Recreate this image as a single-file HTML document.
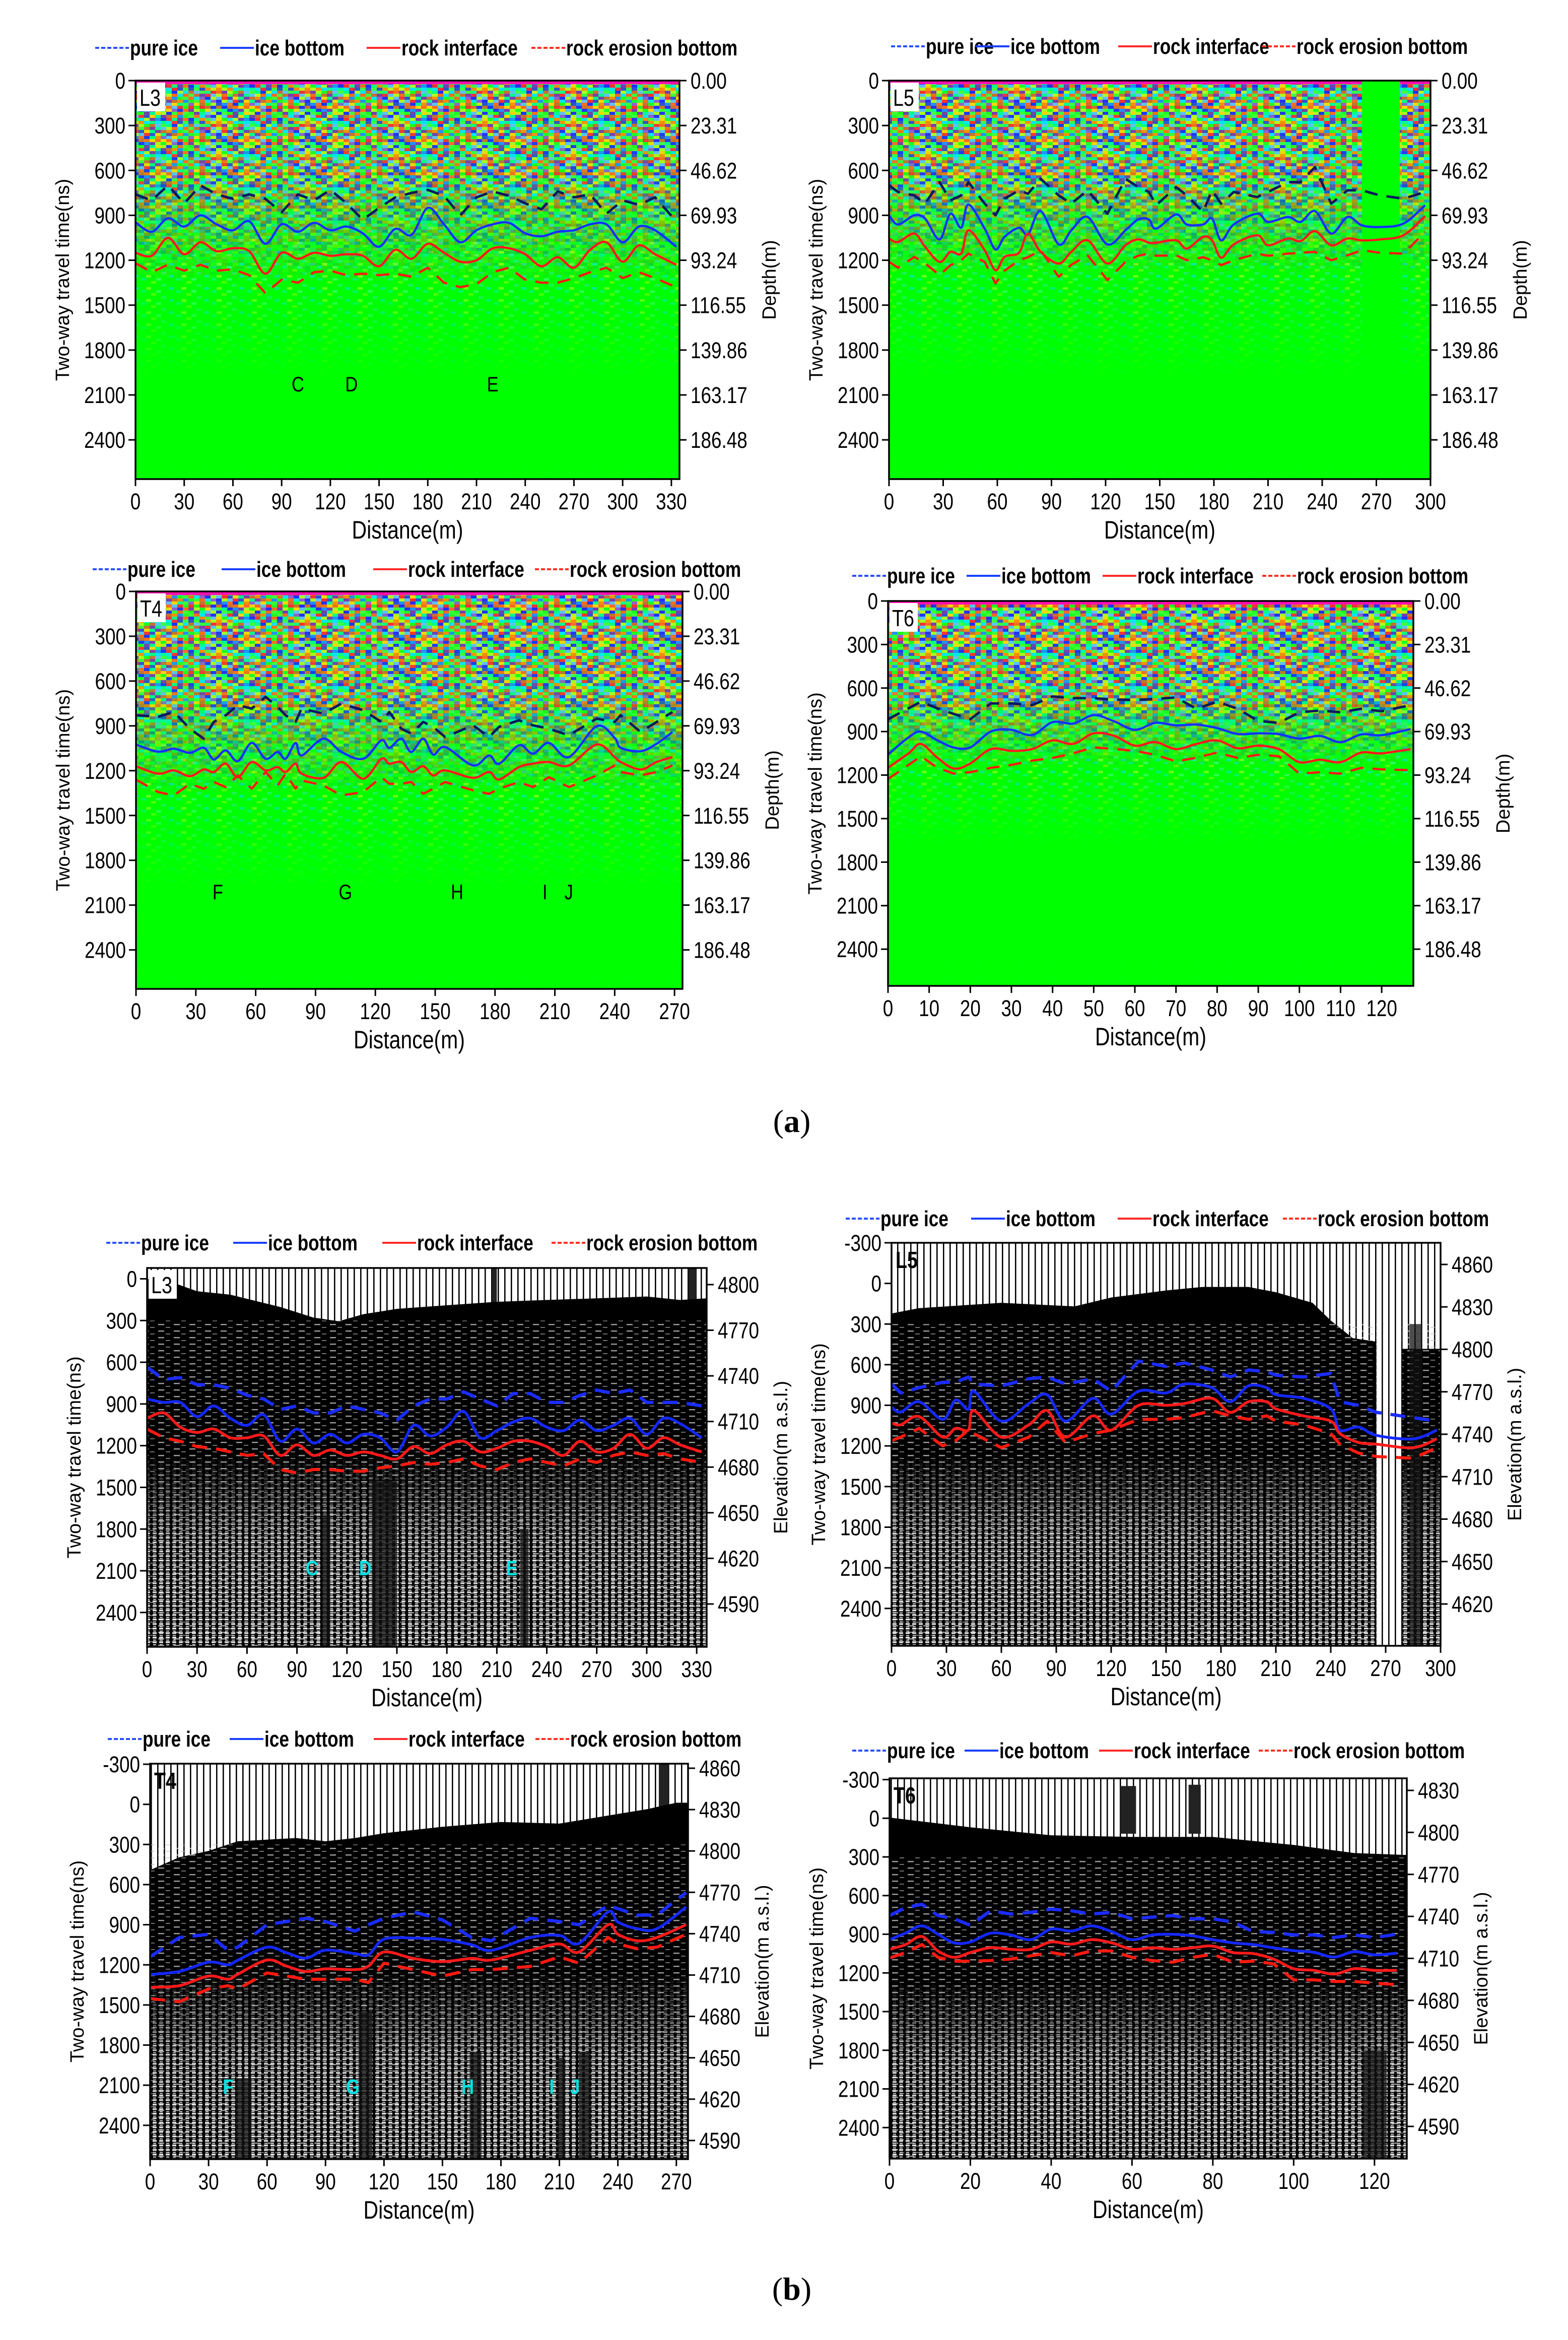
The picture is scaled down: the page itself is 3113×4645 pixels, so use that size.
<!DOCTYPE html>
<html><head><meta charset="utf-8">
<style>
html,body{margin:0;padding:0;background:#fff;}
svg{display:block;}
</style></head>
<body>
<svg id="root" xmlns="http://www.w3.org/2000/svg" width="3113" height="4645" viewBox="0 0 3113 4645">
<rect x="0" y="0" width="3113" height="4645" fill="#ffffff"/>
<defs id="defs">
  <pattern id="traces" patternUnits="userSpaceOnUse" width="13" height="20">
    <rect x="0" y="0" width="13" height="20" fill="#ffffff"/>
    <rect x="0" y="0" width="2.6" height="20" fill="#000"/>
  </pattern>
  <pattern id="wspk" patternUnits="userSpaceOnUse" width="13" height="9">
    <rect x="4" y="0" width="8" height="3.5" fill="#fff"/>
    <rect x="5" y="5.5" width="6" height="2.5" fill="#ccc"/>
  </pattern>
  <pattern id="wspk2" patternUnits="userSpaceOnUse" width="31" height="13">
    <rect x="4" y="2" width="12" height="2.5" fill="#fff"/>
    <rect x="19" y="8" width="9" height="2" fill="#bbb"/>
  </pattern>
</defs>
</svg>
<script>
// ---------------- data ----------------
const nsTicksA=[0,300,600,900,1200,1500,1800,2100,2400];
const depthLabels=['0.00','23.31','46.62','69.93','93.24','116.55','139.86','163.17','186.48'];
const nsTicksB0=[0,300,600,900,1200,1500,1800,2100,2400];
const nsTicksB=[-300,0,300,600,900,1200,1500,1800,2100,2400];
const elevL3=[4800,4770,4740,4710,4680,4650,4620,4590];
const elevL5=[4860,4830,4800,4770,4740,4710,4680,4650,4620];
const elevT4=[4860,4830,4800,4770,4740,4710,4680,4650,4620,4590];
const elevT6=[4830,4800,4770,4740,4710,4680,4650,4620,4590];
const xtL3=[0,30,60,90,120,150,180,210,240,270,300,330];
const xtL5=[0,30,60,90,120,150,180,210,240,270,300];
const xtT4=[0,30,60,90,120,150,180,210,240,270];
const xtT6a=[0,10,20,30,40,50,60,70,80,90,100,110,120];
const xtT6b=[0,20,40,60,80,100,120];

const L3_X=[0,10,20,30,40,50,60,70,80,90,100,110,120,130,140,150,160,170,180,190,200,210,220,230,240,250,260,270,280,290,300,310,320,333];
const L3A_PURE=[760,800,700,820,700,760,790,760,790,880,760,800,730,820,930,850,780,750,730,770,900,780,740,770,820,860,740,780,760,890,800,830,780,940];
const L3A_ICE=[946,1010,920,975,900,960,1000,940,1090,960,1010,950,1000,975,1020,1110,990,1030,850,960,1080,1000,960,950,1020,1040,1010,1000,960,960,1080,975,1000,1110];
const L3A_ROCK=[1150,1170,1050,1160,1080,1140,1120,1140,1290,1150,1190,1150,1170,1160,1170,1240,1130,1190,1090,1150,1210,1200,1120,1120,1160,1240,1180,1250,1130,1080,1210,1100,1160,1230];
const L3A_EROS=[1220,1280,1230,1270,1230,1270,1260,1300,1420,1330,1350,1280,1270,1300,1290,1300,1290,1310,1250,1350,1380,1360,1280,1250,1330,1350,1350,1320,1280,1250,1320,1280,1320,1380];

const L3B_PURE=[635,724,711,762,762,787,838,864,940,914,965,965,914,940,965,1016,914,864,864,813,864,914,825,825,889,889,838,800,825,800,889,889,889,914];
const L3B_ICE=[864,889,889,991,914,1003,1054,978,1168,1080,1181,1118,1181,1118,1143,1245,1054,1130,1067,953,1143,1092,1029,1003,1067,1092,1016,1092,1054,1003,1118,1003,1041,1143];
const L3B_ROCK=[1003,965,1067,1105,1080,1143,1143,1130,1270,1194,1270,1232,1270,1245,1270,1295,1207,1257,1194,1168,1245,1219,1168,1168,1207,1270,1168,1245,1219,1118,1219,1143,1194,1245];
const L3B_EROS=[1080,1143,1168,1207,1219,1245,1270,1257,1372,1397,1372,1372,1384,1384,1359,1346,1321,1334,1321,1295,1346,1372,1321,1295,1321,1346,1295,1321,1270,1245,1270,1257,1295,1321];
const L3B_SURF_X=[0,15,30,50,80,100,115,130,150,180,210,240,270,300,320,336];
const L3B_SURF=[0,25,89,114,203,279,305,254,216,190,165,152,140,127,152,140];

const L5A_X=[0,5,14,20,28,34,40,44,53,59,64,72,77,84,94,101,110,121,131,138,144,148,159,165,174,179,184,191,204,210,221,228,236,245,254,262,272,285,297];
const L5A_PURE=[700,744,767,822,678,800,767,678,822,900,789,733,756,656,767,822,733,889,656,711,744,833,711,767,878,733,822,744,778,744,678,678,578,822,733,733,767,789,744];
const L5A_ICE=[900,961,900,922,1061,889,983,828,989,1128,1044,983,1028,872,1094,1000,911,1094,1000,928,928,989,894,961,961,922,1067,961,889,944,911,944,872,1022,911,967,978,955,833];
const L5A_ROCK=[1055,1078,1022,1111,1211,1144,1155,1000,1133,1267,1178,1150,1022,1144,1222,1144,1067,1222,1100,1061,1083,1083,1067,1122,1044,1067,1183,1094,1033,1100,1055,1072,1006,1100,1055,1067,1061,1033,905];
const L5A_EROS=[1211,1250,1178,1220,1300,1233,1200,1156,1211,1355,1270,1200,1180,1133,1311,1230,1167,1333,1211,1170,1156,1170,1167,1200,1180,1200,1233,1200,1156,1170,1156,1150,1144,1200,1167,1133,1150,1156,1011];

const L5B_X=[0,5,15,28,35,42,45,60,75,85,95,110,120,135,150,160,175,185,195,205,210,225,240,245,255,265,285,298];
const L5B_PURE=[743,809,770,730,730,691,743,757,704,691,743,704,796,574,613,587,639,691,639,652,678,691,665,874,900,952,991,1017];
const L5B_ICE=[913,950,874,1004,861,930,796,1017,887,822,1017,848,965,796,809,743,770,874,757,770,822,848,926,1083,1060,1122,1148,1083];
const L5B_ROCK=[1030,1044,983,1135,1070,1083,939,1135,1044,939,1135,978,1083,900,900,887,848,952,874,874,926,978,1017,1109,1174,1187,1213,1148];
const L5B_EROS=[1161,1135,1070,1200,1161,1083,1109,1213,1135,1017,1174,1109,1083,1004,1004,991,939,978,1004,978,1017,1044,1109,1187,1252,1278,1291,1213];
const L5B_SURF_X=[0,15,60,100,120,150,170,195,210,230,240,252,265];
const L5B_SURF=[222,183,143,170,104,52,26,26,65,143,274,404,430];

const T4A_X=[0,11,19,27,34,39,45,51,58,65,71,75,80,83,94,103,114,123,127,133,138,144,149,155,169,177,182,192,199,207,217,231,240,243,253,261,269];
const T4A_PURE=[829,840,807,919,986,874,829,762,784,706,773,829,874,784,818,751,796,874,807,919,952,874,907,975,896,975,907,863,896,919,963,852,874,829,941,874,807];
const T4A_ICE=[1025,1073,1053,1081,1047,1125,1064,1137,1014,1120,1075,1120,1014,1098,986,1075,1120,997,1047,986,1075,986,1092,1042,1165,1098,1154,1030,1086,1014,1109,902,981,1047,1070,1020,941];
const T4A_ROCK=[1170,1220,1198,1237,1192,1209,1153,1243,1142,1198,1176,1209,1153,1220,1248,1142,1254,1120,1153,1142,1209,1170,1232,1198,1248,1209,1259,1176,1153,1142,1165,1025,1109,1142,1192,1142,1109];
const T4A_EROS=[1260,1343,1366,1288,1321,1276,1310,1232,1321,1209,1299,1220,1321,1265,1299,1366,1343,1243,1288,1288,1276,1355,1321,1276,1332,1355,1321,1276,1310,1243,1310,1232,1165,1209,1232,1209,1165];

const T4B_X=[0,15,30,40,45,60,70,80,90,105,112,120,135,150,165,175,195,210,220,235,240,250,260,275];
const T4B_PURE=[1140,996,972,1092,1068,900,876,852,876,948,900,852,804,864,996,1020,852,876,900,756,780,828,828,660];
const T4B_ICE=[1272,1250,1180,1200,1165,1068,1110,1150,1090,1116,1125,1008,1000,1010,1050,1092,996,980,1040,804,880,930,930,768];
const T4B_ROCK=[1368,1356,1284,1308,1270,1164,1210,1250,1230,1236,1210,1104,1152,1176,1152,1164,1092,1044,1104,900,972,1020,996,900];
const T4B_EROS=[1452,1476,1380,1356,1380,1260,1284,1308,1308,1308,1332,1188,1236,1284,1236,1236,1212,1140,1188,996,1044,1080,1068,972];
const T4B_SURF_X=[0,15,30,45,60,75,90,105,120,150,180,210,240,255,270,277];
const T4B_SURF=[492,396,348,276,264,252,276,252,216,168,132,144,72,36,-12,-12];

const T6A_X=[0,5,8,12,16,20,25,30,35,40,45,50,55,60,65,70,75,80,85,90,95,100,105,110,115,120,127];
const T6A_PURE=[815,740,694,740,779,815,706,706,718,658,670,670,680,682,675,665,743,694,743,827,840,767,755,767,743,760,718];
const T6A_ICE=[1058,940,900,960,1010,1009,900,888,924,835,845,787,830,888,840,857,852,876,917,912,918,949,930,973,920,925,883];
const T6A_ROCK=[1150,1050,985,1080,1155,1120,1021,1033,1021,961,985,912,930,997,973,1021,985,961,1015,997,1021,1111,1094,1111,1045,1050,1021];
const T6A_EROS=[1227,1130,1070,1150,1190,1180,1150,1130,1100,1082,1050,1009,1020,1033,1060,1106,1080,1045,1082,1060,1070,1190,1180,1190,1150,1160,1166];

const T6B_X=[0,4,8,12,16,20,25,30,35,40,45,50,55,60,65,70,75,80,85,90,95,100,105,110,115,120,125.5];
const T6B_PURE=[755,693,668,755,780,830,718,743,730,705,718,743,730,780,767,755,780,780,805,880,885,905,905,925,905,925,900];
const T6B_ICE=[942,890,835,900,967,960,892,905,942,860,875,835,880,942,905,900,912,942,967,980,1005,1027,1040,1077,1035,1060,1047];
const T6B_ROCK=[1017,980,917,1030,1079,1042,1004,1017,1017,960,977,942,967,1017,1005,1017,1005,992,1042,1050,1092,1167,1180,1209,1167,1180,1180];
const T6B_EROS=[1084,1042,980,1079,1109,1109,1104,1092,1067,1042,1067,1030,1030,1079,1104,1117,1079,1055,1117,1109,1129,1254,1254,1266,1266,1279,1291];
const T6B_SURF_X=[0,20,40,60,80,100,115,128];
const T6B_SURF=[-5,70,132,145,145,207,270,285];

// ---------------- helpers ----------------
const NS='http://www.w3.org/2000/svg';
const svg=document.getElementById('root');
const defs=document.getElementById('defs');
const FN='"Liberation Sans",sans-serif';
function mk(tag,attrs,parent){const e=document.createElementNS(NS,tag);for(const k in attrs)e.setAttribute(k,attrs[k]);(parent||svg).appendChild(e);return e;}
function ntext(parent,x,y,str,size,anchor,weight,fill,sc){
  const g=mk('g',{transform:`translate(${x},${y}) scale(${sc||0.82},1)`},parent);
  const t=mk('text',{x:0,y:0,'font-family':FN,'font-size':size,'text-anchor':anchor||'start','font-weight':weight||'normal',fill:fill||'#000'},g);
  t.textContent=str;
  return t;
}

(function(){
  const pal=['#ff8c00','#2030ff','#7a3cb0','#00e5ff','#ffd500','#40ff40','#ff3030','#1e90ff','#b0ff20','#c87030','#9060d0','#00ff90','#ff6a20','#3050d0','#20ff20','#60c0ff'];
  const p=mk('pattern',{id:'rainbow',patternUnits:'userSpaceOnUse',width:176,height:66},defs);
  
  
  for(let i=0;i<16;i++)for(let j=0;j<11;j++){
    const r=mk('rect',{x:i*11,y:j*6,width:11,height:6,fill:pal[(i*7+j*11+((i*j*3)%5))%pal.length]},p);
    
    
  }
  const g=mk('pattern',{id:'greenspk',patternUnits:'userSpaceOnUse',width:70,height:24},defs);
  
  
  const gc=[[0,0,'#00f0c0'],[20,6,'#90ff00'],[40,12,'#30e8a0'],[55,18,'#00e0ff'],[10,18,'#c0ff30'],[30,0,'#50ffa0']];
  gc.forEach(c=>{const r=mk('rect',{x:c[0],y:c[1],width:10,height:5,fill:c[2]},g);
    
    });
})();

function smoothPath(pts){
  let d='M'+pts[0][0].toFixed(1)+','+pts[0][1].toFixed(1);
  for(let i=0;i<pts.length-1;i++){
    const p0=pts[i-1]||pts[i],p1=pts[i],p2=pts[i+1],p3=pts[i+2]||p2;
    const c1x=p1[0]+(p2[0]-p0[0])/6,c1y=p1[1]+(p2[1]-p0[1])/6;
    const c2x=p2[0]-(p3[0]-p1[0])/6,c2y=p2[1]-(p3[1]-p1[1])/6;
    d+=` C${c1x.toFixed(1)},${c1y.toFixed(1)} ${c2x.toFixed(1)},${c2y.toFixed(1)} ${p2[0].toFixed(1)},${p2[1].toFixed(1)}`;
  }
  return d;
}
function linePath(pts){return 'M'+pts.map(p=>p[0].toFixed(1)+','+p[1].toFixed(1)).join(' L');}

let uid=0;
function vgrad(stops){
  const id='g'+(uid++);
  const g=mk('linearGradient',{id:id,x1:0,y1:0,x2:0,y2:1},defs);
  
  
  stops.forEach(s=>{const st=mk('stop',{offset:s[0],'stop-color':'#fff','stop-opacity':s[1]},g);
    
    });
  const m=mk('mask',{id:'m'+id,maskContentUnits:'objectBoundingBox'},defs);
  
  
  const r=mk('rect',{x:0,y:0,width:1,height:1,fill:'url(#'+id+')'},m);
  
  
  return 'url(#m'+id+')';
}

function drawPanel(c){
  const G=mk('g',{});
  
  
  const sx=d=>c.x0+d/c.xmax*(c.x1-c.x0);
  const sy=t=>c.y0+(t-c.tmin)/(c.tmax-c.tmin)*(c.y1-c.y0);
  const fr=t=>Math.max(0,Math.min(1,(t-c.tmin)/(c.tmax-c.tmin)));
  const W=c.x1-c.x0,H=c.y1-c.y0;
  const cid='clip'+(uid++);
  const cp=mk('clipPath',{id:cid},defs);
  
  
  const cr=mk('rect',{x:c.x0,y:c.y0,width:W,height:H},cp);
  
  
  const P=mk('g',{'clip-path':'url(#'+cid+')'},G);
  
  

  if(c.type==='a'){
    const b=mk('rect',{x:c.x0,y:c.y0,width:W,height:H,fill:'#00ff00'},P);
    
    
    const sp=mk('rect',{x:c.x0,y:c.y0,width:W,height:H,fill:'url(#greenspk)',opacity:0.55,mask:vgrad([[0,1],[fr(c.fadeB),1],[fr(c.fadeC),0],[1,0.05]])},P);
    
    
    const rb=mk('rect',{x:c.x0,y:c.y0,width:W,height:H,fill:'url(#rainbow)',mask:vgrad([[0,1],[fr(c.fadeA),0.9],[fr(c.fadeB),0]])},P);
    
    
    const tl=mk('rect',{x:c.x0,y:c.y0,width:W,height:7,fill:'#ff10b0'},P);
    
    
    (c.greenBlocks||[]).forEach(gb=>{
      const r=mk('rect',{x:sx(gb[0]),y:c.y0,width:sx(gb[1])-sx(gb[0]),height:H,fill:'#00ff00'},P);
      
      
    });
  } else {
    const b=mk('rect',{x:c.x0,y:c.y0,width:W,height:H,fill:'url(#traces)'},P);
    
    
    (c.topCols||[]).forEach(tc=>{
      const r=mk('rect',{x:sx(tc[0]),y:sy(tc[2]),width:sx(tc[1])-sx(tc[0]),height:sy(tc[3])-sy(tc[2]),fill:'#222'},P);
      
      
    });
    const pts=c.surfX.map((d,i)=>[sx(d),sy(c.surf[i])]);
    let d='M'+pts.map(p=>p[0].toFixed(1)+','+p[1].toFixed(1)).join(' L');
    d+=` L${pts[pts.length-1][0]},${c.y1} L${pts[0][0]},${c.y1} Z`;
    const s=mk('path',{d:d,fill:'#000'},P);
    
    
    (c.blocks||[]).forEach(bk=>{
      const r=mk('rect',{x:sx(bk[0]),y:sy(bk[2]),width:sx(bk[1])-sx(bk[0]),height:c.y1-sy(bk[2]),fill:'#000'},P);
      
      
    });
    const sp2=mk('rect',{x:c.x0,y:sy(300),width:W,height:c.y1-sy(300),fill:'url(#wspk2)',opacity:0.6},P);
    
    
    const sp=mk('rect',{x:c.x0,y:c.y0,width:W,height:H,fill:'url(#wspk)',mask:vgrad([[0,0],[fr(1250),0],[fr(1900),0.8],[1,0.9]])},P);
    
    
    (c.darkCols||[]).forEach(dc=>{
      const r=mk('rect',{x:sx(dc[0]),y:sy(dc[2]),width:sx(dc[1])-sx(dc[0]),height:c.y1-sy(dc[2]),fill:'#111',opacity:0.75},P);
      
      
    });
    (c.gaps||[]).forEach(gp=>{
      const r=mk('rect',{x:sx(gp[0]),y:c.y0,width:sx(gp[1])-sx(gp[0]),height:H,fill:'url(#traces)'},P);
      
      
    });
  }

  const A=c.type==='a';
  const st=[
    {k:'pure',name:'pure-ice-line',col:A?'#0c1a5c':'#1a2cff',w:A?5:6.5,dash:A?'26,18':'30,18',sm:false},
    {k:'ice',name:'ice-bottom-line',col:A?'#1432ff':'#1428ff',w:A?4.5:5.5,dash:null,sm:true},
    {k:'rock',name:'rock-interface-line',col:'#ff1a1a',w:A?4.5:5.5,dash:null,sm:true},
    {k:'eros',name:'rock-erosion-bottom-line',col:'#ff1a10',w:A?4.5:6,dash:A?'26,18':'30,18',sm:false}
  ];
  st.forEach(s=>{
    const vals=c.series[s.k];
    const pts=c.lx.map((d,i)=>[sx(d),sy(vals[i])]);
    const a={d:s.sm?smoothPath(pts):linePath(pts),fill:'none',stroke:s.col,'stroke-width':s.w,'stroke-linejoin':'round'};
    if(s.dash)a['stroke-dasharray']=s.dash;
    const p=mk('path',a,P);
    
    
  });

  (c.marks||[]).forEach(m=>{
    const t=ntext(G,sx(m[1]),sy(m[2])+15,m[0],42,'middle',A?'normal':'bold',A?'#000':'#00e0e0');
    
    
  });

  if(c.box){
    const r=mk('rect',{x:c.x0+3,y:c.y0+4,width:56,height:57,fill:'#fff'},G);
    
    
  }
  const pl=ntext(G,c.x0+8,c.y0+50,c.name.toUpperCase().slice(0,2),46,'start',c.box?'normal':'bold');
  
  

  const f=mk('rect',{x:c.x0,y:c.y0,width:W,height:H,fill:'none',stroke:'#000','stroke-width':3.5},G);
  
  

  const TS=45;
  c.yt.forEach(t=>{
    const y=sy(t);
    const l=mk('line',{x1:c.x0,x2:c.x0-14,y1:y,y2:y,stroke:'#000','stroke-width':3},G);
    
    
    const tx=ntext(G,c.x0-20,y+16,String(t),TS,'end');
    
    
  });
  if(A){
    c.yt.forEach((t,i)=>{
      const y=sy(t);
      const l=mk('line',{x1:c.x1,x2:c.x1+14,y1:y,y2:y,stroke:'#000','stroke-width':3},G);
      
      
      const tx=ntext(G,c.x1+22,y+16,depthLabels[i],TS,'start');
      
      
    });
  } else {
    const ey=e=>c.e0y+(e-c.e0)/(c.e1-c.e0)*(c.e1y-c.e0y);
    c.et.forEach(e=>{
      const y=ey(e);
      const l=mk('line',{x1:c.x1,x2:c.x1+14,y1:y,y2:y,stroke:'#000','stroke-width':3},G);
      
      
      const tx=ntext(G,c.x1+22,y+16,String(e),TS,'start');
      
      
    });
  }
  c.xt.forEach(d=>{
    const x=sx(d);
    const l=mk('line',{x1:x,x2:x,y1:c.y1,y2:c.y1+14,stroke:'#000','stroke-width':3},G);
    
    
    const tx=ntext(G,x,c.y1+60,String(d),TS,'middle');
    
    
  });
  const xt=ntext(G,(c.x0+c.x1)/2,c.y1+118,'Distance(m)',50,'middle');
  
  
  const ym=(c.y0+c.y1)/2;
  const lt=mk('text',{x:0,y:0,'font-family':FN,'font-size':38,'text-anchor':'middle',transform:`translate(${c.x0-145+13},${ym}) rotate(-90)`},G);
  lt.textContent='Two-way travel time(ns)';
  
  
  const rx=c.x1+(A?178:147);
  const rt=mk('text',{x:0,y:0,'font-family':FN,'font-size':38,'text-anchor':'middle',transform:`translate(${rx+13},${ym}) rotate(-90)`},G);
  rt.textContent=A?'Depth(m)':'Elevation(m a.s.l.)';
  
  

  const names=['pure ice','ice bottom','rock interface','rock erosion bottom'];
  const cols=['#2a50ff','#1a40ff','#ff2a2a','#ff3020'];
  const dashes=['8,4',null,null,'8,4'];
  c.leg[1].forEach((off,i)=>{
    const lx=c.x0+off, ly=c.leg[0];
    const a={x1:lx,x2:lx+67,y1:ly,y2:ly,stroke:cols[i],'stroke-width':4};
    if(dashes[i])a['stroke-dasharray']=dashes[i];
    const l=mk('line',a,G);
    
    
    const t=ntext(G,lx+69,ly+15,names[i],44,'start','bold','#000',0.8);
    
    
  });
}

const legA=[-80,168,459,786];
drawPanel({name:'l3a',type:'a',box:true,x0:269,x1:1349,y0:160,y1:951,xmax:335,tmin:0,tmax:2662,fadeA:650,fadeB:1350,fadeC:2000,
  yt:nsTicksA,xt:xtL3,lx:L3_X,series:{pure:L3A_PURE,ice:L3A_ICE,rock:L3A_ROCK,eros:L3A_EROS},
  marks:[['C',100,2026],['D',133,2026],['E',220,2026]],leg:[95,legA]});
drawPanel({name:'l5a',type:'a',box:true,x0:1765,x1:2840,y0:160,y1:951,xmax:300,tmin:0,tmax:2662,fadeA:650,fadeB:1300,fadeC:2000,
  yt:nsTicksA,xt:xtL5,lx:L5A_X,series:{pure:L5A_PURE,ice:L5A_ICE,rock:L5A_ROCK,eros:L5A_EROS},
  greenBlocks:[[262,283]],leg:[92,[4,172,455,740]]});
drawPanel({name:'t4a',type:'a',box:true,x0:270,x1:1355,y0:1174,y1:1963,xmax:274,tmin:0,tmax:2661,fadeA:700,fadeB:1350,fadeC:2000,
  yt:nsTicksA,xt:xtT4,lx:T4A_X,series:{pure:T4A_PURE,ice:T4A_ICE,rock:T4A_ROCK,eros:T4A_EROS},
  marks:[['F',41,2010],['G',105,2010],['H',161,2010],['I',205,2010],['J',217,2010]],leg:[1130,[-86,170,471,792]]});
drawPanel({name:'t6a',type:'a',box:true,x0:1763,x1:2806,y0:1193,y1:1957,xmax:127.7,tmin:0,tmax:2653,fadeA:650,fadeB:1150,fadeC:1700,
  yt:nsTicksA,xt:xtT6a,lx:T6A_X,series:{pure:T6A_PURE,ice:T6A_ICE,rock:T6A_ROCK,eros:T6A_EROS},
  leg:[1143,[-71,156,426,743]]});

drawPanel({name:'l3b',type:'b',box:true,x0:292,x1:1403,y0:2517,y1:3269,xmax:336,tmin:-78,tmax:2647,
  yt:nsTicksB0,xt:xtL3,lx:L3_X,series:{pure:L3B_PURE,ice:L3B_ICE,rock:L3B_ROCK,eros:L3B_EROS},
  surfX:L3B_SURF_X,surf:L3B_SURF,et:elevL3,e0:4800,e0y:2550,e1:4590,e1y:3184,
  darkCols:[[105,110,1700],[135,150,1450],[224,229,1800]],topCols:[[207,210,-80,180],[325,330,-80,160]],
  marks:[['C',99,2078],['D',131,2078],['E',219,2078]],leg:[2467,[-81,171,467,803]]});
drawPanel({name:'l5b',type:'b',box:false,x0:1770,x1:2860,y0:2467,y1:3267,xmax:300,tmin:-300,tmax:2676,
  yt:nsTicksB,xt:xtL5,lx:L5B_X,series:{pure:L5B_PURE,ice:L5B_ICE,rock:L5B_ROCK,eros:L5B_EROS},
  surfX:L5B_SURF_X,surf:L5B_SURF,blocks:[[279,300,483]],gaps:[[265,279]],et:elevL5,e0:4860,e0y:2510,e1:4620,e1y:3184,
  darkCols:[[283,290,300]],leg:[2419,[-91,158,449,777]]});
drawPanel({name:'t4b',type:'b',box:false,x0:298,x1:1366,y0:3501,y1:4286,xmax:276,tmin:-304,tmax:2653,
  yt:nsTicksB,xt:xtT4,lx:T4B_X,series:{pure:T4B_PURE,ice:T4B_ICE,rock:T4B_ROCK,eros:T4B_EROS},
  surfX:T4B_SURF_X,surf:T4B_SURF,et:elevT4,e0:4860,e0y:3510,e1:4590,e1y:4249,
  darkCols:[[44,52,2050],[107,114,1550],[164,170,1850],[209,213,1900],[220,226,1850]],topCols:[[261,266,-304,20]],
  marks:[['F',40,2109],['G',104,2109],['H',163,2109],['I',206,2109],['J',218,2109]],leg:[3452,[-84,158,444,765]]});
drawPanel({name:'t6b',type:'b',box:false,x0:1766,x1:2793,y0:3530,y1:4285,xmax:128,tmin:-310,tmax:2641,
  yt:nsTicksB,xt:xtT6b,lx:T6B_X,series:{pure:T6B_PURE,ice:T6B_ICE,rock:T6B_ROCK,eros:T6B_EROS},
  surfX:T6B_SURF_X,surf:T6B_SURF,et:elevT6,e0:4830,e0y:3554,e1:4590,e1y:4221,
  darkCols:[[117,123,1800]],topCols:[[57,61,-250,120],[74,77,-260,120]],leg:[3475,[-74,149,416,733]]});

[['a',2247],['b',4565]].forEach(s=>{
  const t=mk('text',{x:1572,y:s[1],'font-family':'"Liberation Serif",serif','font-size':64,'text-anchor':'middle'});
  
  
  const t1=mk('tspan',{},t); t1.textContent='(';
  
  
  const t2=mk('tspan',{'font-weight':'bold'},t); t2.textContent=s[0];
  
  
  const t3=mk('tspan',{},t); t3.textContent=')';
  
  
});
</script>
</body></html>
